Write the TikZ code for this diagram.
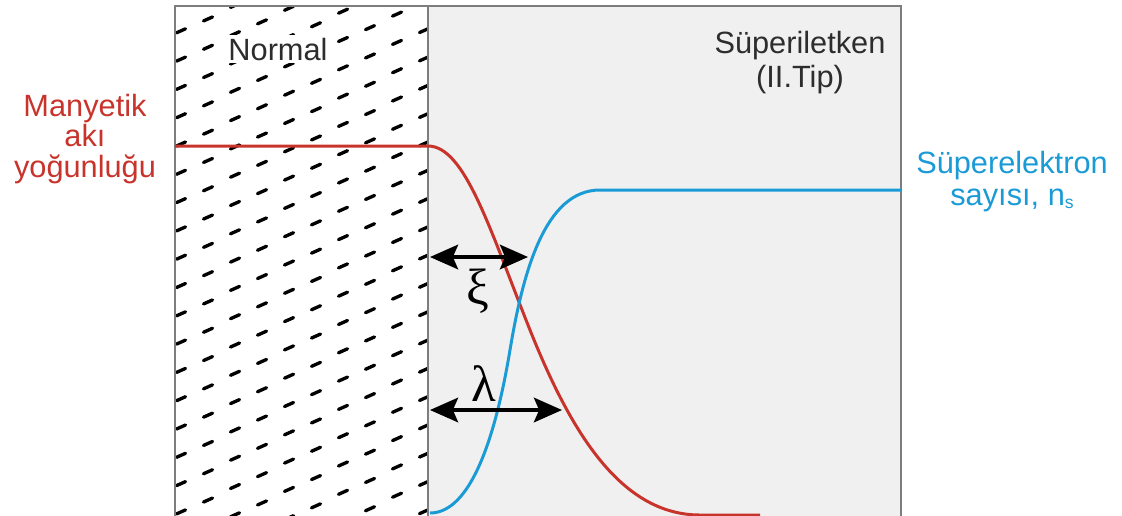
\documentclass[tikz,border=0pt]{standalone}
\usepackage{fontspec}
\setmainfont{Liberation Sans}
\newfontfamily\greekfont{Liberation Serif}
\usetikzlibrary{arrows.meta, positioning}

\definecolor{fluxred}{RGB}{200,52,44}
\definecolor{nsblue}{RGB}{27,155,214}
\definecolor{boxgray}{RGB}{125,125,125}
\definecolor{scfill}{RGB}{240,240,240}
\definecolor{txtgray}{RGB}{45,45,45}

\begin{document}
\begin{tikzpicture}[x=0.02cm, y=-0.02cm,
    lbl/.style={align=center, inner sep=0pt},
    vortex/.style={line width=1.9pt, line cap=round},
    lenarrow/.style={{Stealth[length=16pt,width=14pt,inset=3pt]}-{Stealth[length=16pt,width=14pt,inset=3pt]}, line width=1.9pt},
    curve/.style={line width=1.7pt}]
    \useasboundingbox (0,0) rectangle (1122,515);
    % superconducting region
    \fill[scfill] (428,6) rectangle (901,530);
    % normal region with flux lines
    \begin{scope}
      \clip (175,6) rectangle (428,530);
      \foreach \i in {0,...,9}
        \foreach \j in {-1,...,18} {
          \pgfmathsetmacro{\cx}{181+27*\i}
          \pgfmathsetmacro{\cy}{2.5+1.45*\i+15*mod(\i,2)+28.3*\j}
          \draw[vortex] (\cx-4.5,\cy+2) -- (\cx+4.5,\cy-2);
        }
    \end{scope}
    \draw[boxgray, line width=0.8pt] (175,530) |- (901,6) -- (901,530);
    \draw[boxgray, line width=0.8pt] (428,6) -- (428,530);
    % curves
    \draw[fluxred, curve] (175,146) -- (428,146)
      .. controls (465,146) and (490,230) .. (530,330)
      .. controls (570,430) and (620,515) .. (700,515) -- (760,515);
    \draw[nsblue, curve] (430,513)
      .. controls (470,513) and (495,440) .. (510,350)
      .. controls (523,272) and (545,190) .. (600,190) -- (901,190);
    % lengths
    \coordinate (xiL) at (430,257);
    \coordinate (xiR) at (528,257);
    \coordinate (lamL) at (430,410);
    \coordinate (lamR) at (562,410);
    \draw[lenarrow] (xiL) -- (xiR);
    \draw[lenarrow] (lamL) -- (lamR);
    \node[font=\greekfont\fontsize{29}{29}\selectfont] (xi) at (478,291) {ξ};
    \node[font=\greekfont\fontsize{29}{29}\selectfont] (lam) at (484,384) {λ};
    % labels
    \node[lbl, text=txtgray, anchor=base, fill=white, inner sep=1.5pt,
          font=\fontsize{17.5}{19}\selectfont] (normal) at (278,60) {Normal};
    \node[lbl, text=txtgray, anchor=base, font=\fontsize{17.5}{19}\selectfont] (sc) at (800,87) {Süperiletken\\(II.Tip)};
    \node[lbl, text=fluxred, anchor=base, font=\fontsize{17.5}{17.2}\selectfont] (flux) at (85,177) {Manyetik\\akı\\yoğunluğu};
    \node[lbl, text=nsblue, anchor=base, font=\fontsize{17.5}{18.2}\selectfont] (ns) at (1012,205)
      {Süperelektron\\sayısı, n\raisebox{-0.2ex}{\fontsize{10}{10}\selectfont s}};
\end{tikzpicture}
\end{document}
